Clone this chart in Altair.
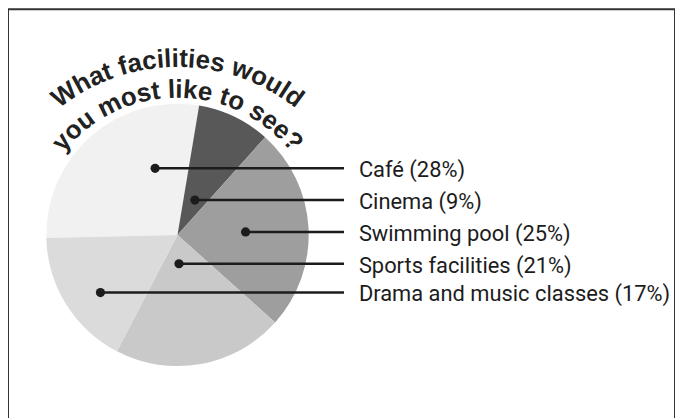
import math
import altair as alt
import pandas as pd

# ---------------- data ----------------
categories = ["Café", "Cinema", "Swimming pool", "Sports facilities", "Drama and music classes"]
percent = [28, 9, 25, 21, 17]
shades = ["#f1f1f1", "#585858", "#9e9e9e", "#c9c9c9", "#dbdbdb"]
title_lines = ["What facilities would", "you most like to see?"]

# ---------------- layout ----------------
W, H = 671, 420
CX, CY, R = 170.5, 227, 132
START_DEG = -91.3
dot_x = [148, 188, 239, 172, 93]
row_y = [160, 192, 224, 256, 285]
LINE_END = 338
TEXT_X = 353
LABEL_FONT = "Roboto, Liberation Sans Narrow, sans-serif"
LABEL_FS = 22
TITLE_FONT = "Liberation Sans, Arial, sans-serif"
TITLE_FS = 26
title_arcs = [(248, 190), (236, 147)]  # (centre y, baseline radius) per line
INK = "#1c1c1c"

# Arial Bold advance widths (1/1000 em) for laying text on an arc
adv = {"W": 944, "h": 611, "a": 556, "t": 333, " ": 278, "f": 333, "c": 556,
       "i": 278, "l": 278, "e": 556, "s": 556, "w": 778, "o": 611, "u": 611,
       "d": 611, "y": 556, "m": 889, "k": 556, "?": 611}

pie_df = pd.DataFrame({
    "category": categories,
    "percent": percent,
    "order": list(range(len(categories))),
})
lab_df = pd.DataFrame({
    "label": [f"{c} ({p}%)" for c, p in zip(categories, percent)],
    "dx": dot_x,
    "ry": row_y,
    "lx": [LINE_END] * len(categories),
    "tx": [TEXT_X] * len(categories),
})

xs = alt.Scale(domain=[0, W], range=[0, W])
ys = alt.Scale(domain=[0, H], range=[0, H])

start = math.radians(START_DEG)
pie = alt.Chart(pie_df).mark_arc(radius=R, stroke=None).encode(
    theta=alt.Theta("percent:Q", stack=True,
                    scale=alt.Scale(range=[start, start + 2 * math.pi])),
    order=alt.Order("order:Q"),
    color=alt.Color("category:N", scale=alt.Scale(domain=categories, range=shades), legend=None),
    x=alt.value(CX),
    y=alt.value(CY),
)

rules = alt.Chart(lab_df).mark_rule(color=INK, strokeWidth=2.5).encode(
    x=alt.X("dx:Q", scale=xs, axis=None),
    x2="lx:Q",
    y=alt.Y("ry:Q", scale=ys, axis=None),
)
dots = alt.Chart(lab_df).mark_circle(color=INK, opacity=1, size=85).encode(
    x=alt.X("dx:Q", scale=xs, axis=None),
    y=alt.Y("ry:Q", scale=ys, axis=None),
)
labels = alt.Chart(lab_df).mark_text(
    align="left", baseline="middle", font=LABEL_FONT, fontSize=LABEL_FS, color=INK, dy=2
).encode(
    x=alt.X("tx:Q", scale=xs, axis=None),
    y=alt.Y("ry:Q", scale=ys, axis=None),
    text="label:N",
)

title_layers = []
for line, (cy, rad) in zip(title_lines, title_arcs):
    widths = [adv.get(ch, 556) * TITLE_FS / 1000 for ch in line]
    total = sum(widths)
    rows = []
    s = 0.0
    for ch, w in zip(line, widths):
        th = (s + w / 2 - total / 2) / rad
        rows.append({"ch": ch, "theta": th, "angle": math.degrees(th) % 360})
        s += w
    tdf = pd.DataFrame(rows)
    title_layers.append(
        alt.Chart(tdf).mark_text(
            font=TITLE_FONT, fontSize=TITLE_FS, fontWeight="bold", color="#222222",
            align="center", baseline="alphabetic"
        ).encode(
            theta=alt.Theta("theta:Q", scale=None),
            radius=alt.value(rad),
            angle=alt.Angle("angle:Q", scale=None),
            text="ch:N",
            x=alt.value(CX),
            y=alt.value(cy),
        )
    )

chart = alt.layer(pie, rules, dots, labels, *title_layers).resolve_scale(
    theta="independent"
).properties(
    width=W, height=H, padding=0, autosize=alt.AutoSizeParams(type="none"),
    background="white",
).configure_view(stroke="#333333", strokeWidth=2)

chart.save("out.html", embed_options={"renderer": "svg", "actions": False})
